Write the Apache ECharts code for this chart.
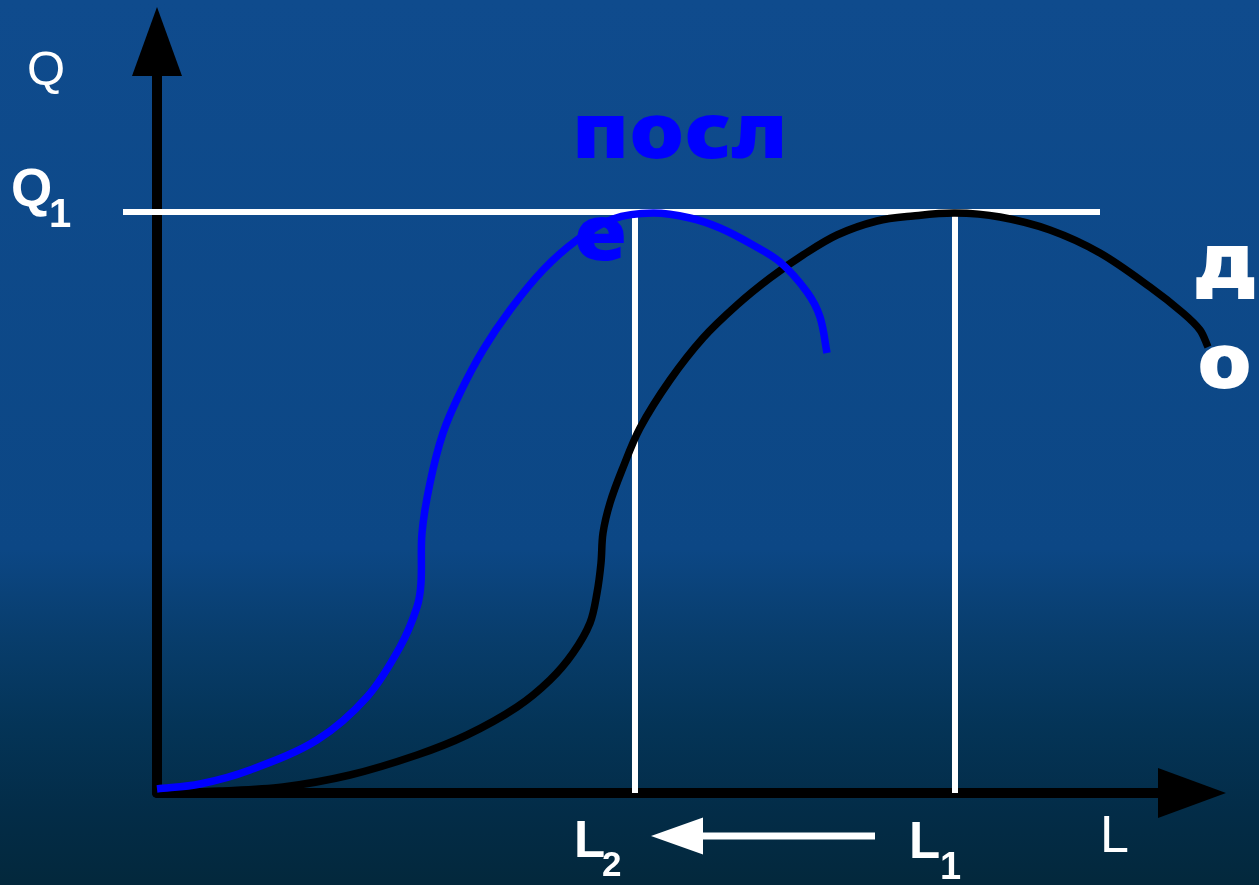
<!DOCTYPE html>
<html>
<head>
    <meta charset="utf-8">
    <script src="https://cdn.jsdelivr.net/npm/echarts@6/dist/echarts.min.js"></script>
    <style>
        html, body { margin: 0; padding: 0; }
        #main { width: 1259px; height: 885px; }
    </style>
</head>
<body>
    <div id="main"></div>
    <script type="text/javascript">
        // curve "после" (blue), [L, Q]
        var afterCurve = [
            [0, 0.4], [4.3, 0.9], [9.3, 2.3], [16.0, 5.3], [21.0, 9.6], [24.3, 14.6],
            [26.0, 18.6], [26.4, 21.0], [26.5, 26.0], [27.3, 31.0], [28.6, 36.0], [30.3, 40.0],
            [32.6, 44.3], [35.3, 48.3], [38.6, 52.3], [42.0, 55.3], [45.6, 57.4], [49.6, 58.0],
            [53.3, 57.5], [56.3, 56.5], [59.6, 54.8], [62.3, 53.1], [65.0, 50.1], [66.3, 47.6],
            [67.0, 44.0]
        ];
        // curve "до" (black)
        var beforeCurve = [
            [0, 0], [6.3, 0.2], [12.6, 0.6], [19.3, 1.8], [26.0, 3.8], [31.0, 5.8],
            [36.0, 8.6], [39.3, 11.3], [41.6, 14.0], [43.3, 17.0], [44.0, 20.0], [44.4, 23.0],
            [44.6, 26.0], [45.3, 29.0], [46.5, 32.3], [48.3, 36.5], [51.3, 41.3], [54.6, 45.5],
            [58.0, 48.8], [61.3, 51.5], [64.6, 53.8], [68.0, 55.8], [72.0, 57.2], [75.6, 57.7],
            [79.8, 58.0], [84.3, 57.6], [89.3, 56.3], [94.3, 54.0], [99.3, 50.6], [102.6, 48.0],
            [104.3, 46.3], [105.1, 44.6]
        ];
        var q1 = 58.1;
        var l2 = 47.8;
        var l1 = 79.8;
        var q1Line = [[-3.4, q1], [94.3, q1]];
        var shiftArrow = [[71.8, -4.3], [54.6, -4.3]];
        var shiftArrowTip = [49.4, -4.3];

        var myChart = echarts.init(document.getElementById('main'));

        var bg = new echarts.graphic.LinearGradient(0, 0, 0, 1, [
            { offset: 0, color: '#0f4b8d' },
            { offset: 0.62, color: '#0c4785' },
            { offset: 0.72, color: '#083d6c' },
            { offset: 0.82, color: '#043457' },
            { offset: 0.92, color: '#032c47' },
            { offset: 1, color: '#03283c' }
        ]);

        function txt(s, x, y, size, weight, color, family, sy) {
            return {
                type: 'text', x: x, y: y, z: 50, scaleY: sy || 1,
                style: {
                    text: s, fill: color || '#fff',
                    font: (weight || 'normal') + ' ' + size + 'px ' + (family || '"Liberation Sans", Arial'),
                    verticalAlign: 'top'
                }
            };
        }

        function unit(a, b) {
            var dx = b[0] - a[0], dy = b[1] - a[1];
            var l = Math.sqrt(dx * dx + dy * dy) || 1;
            return [dx / l, dy / l];
        }

        // smooth path through the points, tangent = direction of neighbours, handle = 1/3 segment
        function curvePath(pts) {
            var d = 'M' + pts[0][0] + ' ' + pts[0][1];
            for (var i = 0; i < pts.length - 1; i++) {
                var p0 = pts[i - 1] || pts[i], p1 = pts[i], p2 = pts[i + 1], p3 = pts[i + 2] || pts[i + 1];
                var t1 = unit(p0, p2), t2 = unit(p1, p3);
                var dx = p2[0] - p1[0], dy = p2[1] - p1[1];
                var len = Math.sqrt(dx * dx + dy * dy) / 3;
                d += 'C' + (p1[0] + t1[0] * len) + ' ' + (p1[1] + t1[1] * len) + ' '
                    + (p2[0] - t2[0] * len) + ' ' + (p2[1] - t2[1] * len) + ' ' + p2[0] + ' ' + p2[1];
            }
            return d;
        }

        function curveSeries(data, color, width, z, smooth) {
            return {
                type: 'custom', data: [0], z: z, silent: true, clip: false,
                renderItem: function (params, api) {
                    var pts = data.map(function (p) { return api.coord(p); });
                    var d;
                    if (smooth) {
                        d = curvePath(pts);
                    } else {
                        d = pts.map(function (p, i) { return (i ? 'L' : 'M') + p[0] + ' ' + p[1]; }).join('');
                    }
                    return {
                        type: 'path',
                        shape: { pathData: d },
                        style: { fill: 'none', stroke: color, lineWidth: width }
                    };
                }
            };
        }

        var arrowHead = {
            type: 'custom', data: [0], z: 6, silent: true, clip: false,
            renderItem: function (params, api) {
                var tip = api.coord(shiftArrowTip);
                var base = api.coord(shiftArrow[1]);
                return {
                    type: 'polygon',
                    shape: { points: [tip, [base[0], base[1] - 18.5], [base[0], base[1] + 18.5]] },
                    style: { fill: '#fff' }
                };
            }
        };

        option = {
            animation: false,
            grid: { left: 157, right: 67, top: 41.5, bottom: 92 },
            xAxis: {
                type: 'value', min: 0, max: 103.5,
                axisLine: {
                    show: true, onZero: false,
                    symbol: ['none', 'triangle'], symbolSize: [50, 68],
                    lineStyle: { color: '#000', width: 10 }
                },
                axisTick: { show: false }, axisLabel: { show: false }, splitLine: { show: false }
            },
            yAxis: {
                type: 'value', min: 0, max: 75.15,
                axisLine: {
                    show: true, onZero: false,
                    symbol: ['none', 'triangle'], symbolSize: [50, 69],
                    lineStyle: { color: '#000', width: 10 }
                },
                axisTick: { show: false }, axisLabel: { show: false }, splitLine: { show: false }
            },
            graphic: [
                { type: 'rect', z: -10, silent: true, shape: { x: 0, y: 0, width: 1259, height: 885 }, style: { fill: bg } },
                txt('Q', 27, 47, 49),
                txt('Q', 11, 165, 53, 'bold'),
                txt('1', 49, 196, 40, 'bold'),
                txt('L', 574, 817, 51, 'bold'),
                txt('2', 602, 849, 35, 'bold'),
                txt('L', 909, 818, 51, 'bold'),
                txt('1', 940, 850, 38, 'bold'),
                txt('L', 1100, 812, 52),
                txt('посл', 572, 97.5, 87, '900', '#0000ff', '"Noto Sans"', 0.88),
                txt('е', 574, 199.5, 87, '900', '#0000ff', '"Noto Sans"', 0.88),
                txt('д', 1196, 227.5, 87, '900', '#fff', '"Noto Sans"', 0.88),
                txt('о', 1197, 327.5, 87, '900', '#fff', '"Noto Sans"', 0.88)
            ],
            series: [
                curveSeries(q1Line, '#fff', 6, 1, false),
                curveSeries([[l2, 0], [l2, q1]], '#fff', 6, 1, false),
                curveSeries([[l1, 0], [l1, q1]], '#fff', 6, 1, false),
                curveSeries(beforeCurve, '#000', 7.5, 3, true),
                curveSeries(afterCurve, '#0000ff', 7.5, 4, true),
                curveSeries(shiftArrow, '#fff', 7, 5, false),
                arrowHead
            ]
        };
        myChart.setOption(option);
    </script>
</body>
</html>
